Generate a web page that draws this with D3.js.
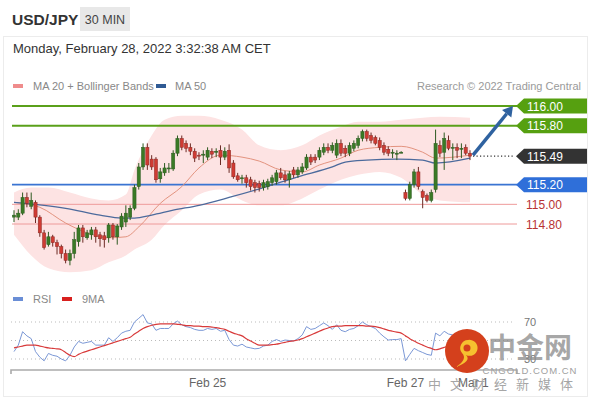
<!DOCTYPE html>
<html><head><meta charset="utf-8">
<script src="https://cdn.jsdelivr.net/npm/d3@7"></script>
<style>
html,body{margin:0;padding:0;background:#fff;}
svg{display:block;font-family:"Liberation Sans",Arial,Helvetica,sans-serif;}
</style></head>
<body>
<svg id="c" width="590" height="400"></svg>
<script>
// ---- data ----
const title = "USD/JPY";
const interval = "30 MIN";
const dateText = "Monday, February 28, 2022 3:32:38 AM CET";
const candleOpen  = [114.87,114.87,114.91,115.07,114.98,115.02,114.87,114.71,114.59,114.67,114.61,114.57,114.50,114.43,114.50,114.62,114.76,114.66,114.69,114.74,114.69,114.68,114.66,114.79,114.67,114.77,114.82,114.87,114.96,115.18,115.38,115.58,115.46,115.46,115.26,115.32,115.36,115.36,115.52,115.67,115.62,115.58,115.54,115.50,115.50,115.48,115.54,115.53,115.55,115.48,115.55,115.42,115.29,115.26,115.27,115.25,115.22,115.21,115.17,115.18,115.22,115.23,115.32,115.30,115.25,115.35,115.30,115.33,115.37,115.48,115.48,115.48,115.53,115.58,115.55,115.50,115.62,115.57,115.52,115.57,115.60,115.67,115.74,115.70,115.68,115.65,115.60,115.56,115.53,115.52,115.53,115.12,115.06,115.20,115.33,115.13,115.09,115.04,115.15,115.60,115.53,115.65,115.57,115.58,115.57,115.58,115.52];
const candleHigh  = [114.94,114.95,115.12,115.12,115.12,115.04,114.89,114.74,114.72,114.69,114.64,114.59,114.54,114.54,114.72,114.79,114.79,114.74,114.77,114.77,114.72,114.72,114.81,114.81,114.80,114.91,114.99,114.99,115.20,115.42,115.62,115.62,115.50,115.48,115.37,115.42,115.42,115.55,115.70,115.70,115.65,115.62,115.57,115.53,115.55,115.58,115.57,115.57,115.60,115.58,115.61,115.45,115.32,115.30,115.30,115.28,115.25,115.24,115.25,115.26,115.30,115.35,115.37,115.34,115.34,115.38,115.38,115.42,115.51,115.51,115.51,115.58,115.62,115.62,115.63,115.66,115.66,115.60,115.63,115.65,115.70,115.76,115.76,115.73,115.70,115.68,115.63,115.59,115.56,115.55,115.54,115.15,115.23,115.36,115.38,115.15,115.11,115.15,115.76,115.65,115.73,115.70,115.62,115.62,115.62,115.61,115.55];
const candleLow   = [114.82,114.84,114.89,114.97,114.95,114.81,114.67,114.54,114.57,114.57,114.49,114.45,114.40,114.38,114.45,114.57,114.61,114.64,114.64,114.61,114.57,114.56,114.61,114.64,114.59,114.74,114.77,114.84,114.94,115.15,115.35,115.35,115.35,115.22,115.22,115.29,115.32,115.34,115.49,115.55,115.53,115.50,115.43,115.45,115.42,115.45,115.47,115.48,115.40,115.45,115.32,115.26,115.23,115.21,115.17,115.14,115.12,115.13,115.14,115.15,115.19,115.20,115.25,115.22,115.17,115.27,115.27,115.31,115.35,115.40,115.42,115.45,115.50,115.52,115.52,115.47,115.49,115.48,115.49,115.54,115.57,115.64,115.64,115.62,115.60,115.55,115.50,115.49,115.47,115.45,115.52,115.04,115.04,115.17,115.15,114.96,115.02,115.02,115.12,115.48,115.35,115.55,115.45,115.47,115.47,115.50,115.45];
const candleClose = [114.89,114.91,115.07,115.01,115.04,114.87,114.71,114.56,114.67,114.61,114.57,114.50,114.43,114.50,114.64,114.76,114.67,114.71,114.74,114.67,114.65,114.64,114.79,114.67,114.78,114.88,114.91,114.96,115.17,115.38,115.58,115.40,115.38,115.25,115.33,115.37,115.37,115.52,115.67,115.58,115.57,115.54,115.47,115.49,115.51,115.55,115.51,115.54,115.48,115.54,115.37,115.28,115.25,115.27,115.22,115.18,115.17,115.17,115.22,115.23,115.27,115.32,115.27,115.25,115.31,115.30,115.35,115.38,115.48,115.43,115.45,115.55,115.58,115.55,115.60,115.62,115.52,115.52,115.60,115.62,115.67,115.74,115.67,115.65,115.62,115.58,115.53,115.52,115.53,115.52,115.53,115.06,115.20,115.33,115.18,115.07,115.04,115.12,115.62,115.52,115.67,115.57,115.58,115.55,115.57,115.52,115.49];

// sparse readings: [candle index, value]
const ma20Idx = [0,6,12,17,22,26,29,34,39,43,48,53,57,62,67,71,76,80,85,90,95,98,106];
const ma20Val = [115.02,114.97,114.81,114.71,114.66,114.67,114.77,115.01,115.18,115.37,115.50,115.48,115.44,115.35,115.33,115.40,115.47,115.55,115.58,115.59,115.53,115.47,115.50];
const ma50Idx = [0,12,20,25,28,32,37,43,50,58,66,74,77,82,89,95,98,106];
const ma50Val = [115.02,114.96,114.89,114.86,114.86,114.89,114.94,114.99,115.07,115.17,115.28,115.38,115.43,115.45,115.46,115.45,115.42,115.47];
const bandIdx   = [0,4,8,13,18,22,26,28,32,35,39,43,48,53,57,62,67,71,76,80,85,90,95,99,106];
const bandUpper = [115.12,115.17,115.17,115.12,115.06,115.04,115.10,115.35,115.70,115.86,115.90,115.90,115.86,115.76,115.60,115.55,115.60,115.70,115.79,115.84,115.84,115.86,115.88,115.89,115.88];
const bandLower = [114.69,114.48,114.35,114.31,114.33,114.41,114.48,114.54,114.64,114.79,114.94,115.10,115.15,115.04,114.99,114.99,115.06,115.15,115.25,115.30,115.33,115.27,115.10,115.04,115.02];

const rsiValues = [38,45,59.5,55,52,38,32,28,36,34,33,30,28,34,43,49,47,48,49,45,45,45,53,49,53,58,60,61,70,74,78,69,68,61,63,63,63,68,71,67,65,64,62,61,61,63,62,63,60,61,51,45,44,46,43,42,41,41.5,44,45,49,51,49,50.5,50,49.5,52,56,65,62,63,66,69,66,62,67,61,59.5,62,63,66,70,67,65,63,58,54,50.5,51,51,52,28,35,41.5,39,37,35,34,58,55,60,57,56,55,56,53,51];
const rsiMA = [42,43,44,45,45,45,44,43,42,41.5,41,40,37,34,32.5,35,37,38.5,40,41.5,43,44.5,46,47.5,49,50.5,52,53.5,57,60,63,65,66.5,67.5,68,68,68,68,67.5,67,66,66,65.5,65.5,65,65,64.5,64,63,62,60,58,56.5,55,52,49.5,47,45,45,45,45.5,46,47,48,49,49.5,50.5,52,54,56,58,60,62,63.5,65,65.5,65.5,66,66,66,66,66,65.5,65.5,65,64,62.5,61,60,59,58,55,52,49.5,47,45,43,41.5,40,41,42.5,44,45.5,47,49,50.5,52];

const levelPrices = [116.00, 115.80, 115.49, 115.20, 115.00, 114.80];
const levelLabels = ["116.00","115.80","115.49","115.20","115.00","114.80"];
const levelKinds  = ["res","res","last","sup","minor","minor"];
const rsiLevels = [70, 50, 30];
const rsiLevelLabels = ["70", "", "30"];
const timeTickIdx = [45, 91, 106.8];
const timeTickLabels = ["Feb 25", "Feb 27", "Mar 1"];

// ---- drawing ----
const svg = d3.select("#c");
const x = d3.scaleLinear().domain([0,106]).range([14,470]);
const y = d3.scaleLinear().domain([114.8,116.0]).range([224,106]);
const yr = d3.scaleLinear().domain([30,70]).range([359,322]);

// frame
svg.append("rect").attr("x",0).attr("y",0).attr("width",590).attr("height",400).attr("fill","#fff");
svg.append("rect").attr("x",3.5).attr("y",36.5).attr("width",584).attr("height",360).attr("fill","#fff").attr("stroke","#ececec");

// header
svg.append("text").attr("x",12).attr("y",25).attr("font-size",15.5).attr("font-weight","bold").attr("fill","#333").text(title);
svg.append("rect").attr("x",80).attr("y",7).attr("width",50).attr("height",24).attr("fill","#e8e8e8");
svg.append("text").attr("x",105).attr("y",24).attr("text-anchor","middle").attr("font-size",12.5).attr("fill","#444").text(interval);
svg.append("text").attr("x",13).attr("y",53).attr("font-size",13).attr("fill","#333").text(dateText);

// legends
svg.append("rect").attr("x",13).attr("y",84).attr("width",10).attr("height",4).attr("fill","#ef8c8c");
svg.append("text").attr("x",33).attr("y",90).attr("font-size",11).attr("fill","#888").text("MA 20 + Bollinger Bands");
svg.append("rect").attr("x",156).attr("y",84).attr("width",10).attr("height",4).attr("fill","#2f5a94");
svg.append("text").attr("x",175).attr("y",90).attr("font-size",11).attr("fill","#888").text("MA 50");
svg.append("text").attr("x",581).attr("y",90).attr("text-anchor","end").attr("font-size",11).attr("fill","#9a9a9a").text("Research \u00a9 2022 Trading Central");

// bollinger band
const bandData = bandIdx.map((d,i)=>({i:d,u:bandUpper[i],l:bandLower[i]}));
svg.append("path").datum(bandData)
  .attr("d", d3.area().x(d=>x(d.i)).y0(d=>y(d.l)).y1(d=>y(d.u)).curve(d3.curveMonotoneX))
  .attr("fill","#fde3e3");

// level lines
levelPrices.forEach((p,k)=>{
  const kind = levelKinds[k], yy = y(p);
  if (kind==="res") svg.append("line").attr("x1",12).attr("x2",517).attr("y1",yy).attr("y2",yy).attr("stroke","#5aa01a").attr("stroke-width",2);
  if (kind==="sup") svg.append("line").attr("x1",12).attr("x2",517).attr("y1",yy).attr("y2",yy).attr("stroke","#3a74d2").attr("stroke-width",1.6);
  if (kind==="minor") svg.append("line").attr("x1",12).attr("x2",517).attr("y1",yy).attr("y2",yy).attr("stroke","#ee9a9a").attr("stroke-width",1);
  if (kind==="last") svg.append("line").attr("x1",x(106)+3).attr("x2",515).attr("y1",yy).attr("y2",yy).attr("stroke","#333").attr("stroke-width",1.2).attr("stroke-dasharray","1.2,2.3");
});

// MA lines
const ma20 = ma20Idx.map((d,i)=>[x(d),y(ma20Val[i])]);
const ma50 = ma50Idx.map((d,i)=>[x(d),y(ma50Val[i])]);
svg.append("path").attr("d",d3.line().curve(d3.curveMonotoneX)(ma20)).attr("fill","none").attr("stroke","#e3937f").attr("stroke-width",1);
svg.append("path").attr("d",d3.line().curve(d3.curveMonotoneX)(ma50)).attr("fill","none").attr("stroke","#4c6a9c").attr("stroke-width",1.3);

// candles
const candles = candleOpen.map((o,i)=>({i,o,h:candleHigh[i],l:candleLow[i],c:candleClose[i]}));
const cg = svg.append("g");
cg.selectAll("line.w").data(candles).join("line")
  .attr("x1",d=>x(d.i)).attr("x2",d=>x(d.i)).attr("y1",d=>y(d.h)).attr("y2",d=>y(d.l))
  .attr("stroke",d=>d.c>=d.o?"#2d5a20":"#6b2a24").attr("stroke-width",1);
cg.selectAll("rect.b").data(candles).join("rect")
  .attr("x",d=>x(d.i)-1.6).attr("width",3.2)
  .attr("y",d=>y(Math.max(d.o,d.c)))
  .attr("height",d=>Math.max(1,Math.abs(y(d.o)-y(d.c))))
  .attr("fill",d=>d.c>=d.o?"#3a7a26":"#cf3b33")
  .attr("stroke",d=>d.c>=d.o?"#2d5a20":"#8a2a24").attr("stroke-width",0.5);

// level labels
levelPrices.forEach((p,k)=>{
  const kind = levelKinds[k], yy = y(p);
  if (kind==="minor") {
    svg.append("text").attr("x",526).attr("y",yy+4.5).attr("font-size",12).attr("fill","#b83232").text(levelLabels[k]);
    return;
  }
  const col = kind==="res" ? "#56a010" : kind==="sup" ? "#2f6fd9" : "#333";
  svg.append("path")
    .attr("d",`M516,${yy} L524,${yy-7.5} L587,${yy-7.5} L587,${yy+7.5} L524,${yy+7.5} Z`)
    .attr("fill",col);
  svg.append("text").attr("x",527).attr("y",yy+4.5).attr("font-size",12).attr("fill","#fff").text(levelLabels[k]);
});

// arrow
const ax1 = x(106)+3, ay1 = y(115.49)-1, ax2 = 513, ay2 = y(116.0)+0;
const ang = Math.atan2(ay2-ay1, ax2-ax1);
const sx = ax2 - 10*Math.cos(ang), sy = ay2 - 10*Math.sin(ang);
svg.append("line").attr("x1",ax1).attr("y1",ay1).attr("x2",sx).attr("y2",sy).attr("stroke","#2f62a0").attr("stroke-width",3.5);
const px = -Math.sin(ang), py = Math.cos(ang);
svg.append("path").attr("d",`M${ax2},${ay2} L${sx+6*px},${sy+6*py} L${sx-6*px},${sy-6*py} Z`).attr("fill","#2f62a0");

// RSI legend
svg.append("rect").attr("x",13).attr("y",297).attr("width",10).attr("height",4).attr("fill","#6a8ed6");
svg.append("text").attr("x",33).attr("y",303).attr("font-size",11).attr("fill","#888").text("RSI");
svg.append("rect").attr("x",62).attr("y",297).attr("width",10).attr("height",4).attr("fill","#d8201e");
svg.append("text").attr("x",82).attr("y",303).attr("font-size",11).attr("fill","#888").text("9MA");

// RSI grid
rsiLevels.forEach((v,k)=>{
  svg.append("line").attr("x1",11).attr("x2",515).attr("y1",yr(v)).attr("y2",yr(v))
    .attr("stroke","#bbb").attr("stroke-width",1).attr("stroke-dasharray","1,3");
  if (rsiLevelLabels[k]) svg.append("text").attr("x",524).attr("y",yr(v)+4).attr("font-size",11).attr("fill","#777").text(rsiLevelLabels[k]);
});
svg.append("path").attr("d",d3.line().x((d,i)=>x(i)).y(d=>yr(d))(rsiValues)).attr("fill","none").attr("stroke","#7b98d6").attr("stroke-width",1);
svg.append("path").attr("d",d3.line().x((d,i)=>x(i)).y(d=>yr(d)).curve(d3.curveMonotoneX)(rsiMA)).attr("fill","none").attr("stroke","#d83a3a").attr("stroke-width",1.2);

// time axis
svg.append("path").attr("d","M11,374 V370 H517 V374").attr("fill","none").attr("stroke","#aaa").attr("stroke-width",1.6);
timeTickIdx.forEach((t,k)=>{
  svg.append("text").attr("x",x(t)).attr("y",387).attr("text-anchor","middle").attr("font-size",12).attr("fill","#666").text(timeTickLabels[k]);
});

// watermark
const wm = svg.append("g");
wm.append("circle").attr("cx",467).attr("cy",351).attr("r",22).attr("fill","#d4401c");
wm.append("path").attr("d","M468,340 a8,8 0 1,1 -2,15 q6,6 -10,12 q12,-8 6,-14 a8,8 0 0,1 6,-13 z").attr("fill","#f6c12f");
wm.append("circle").attr("cx",467).attr("cy",348).attr("r",3.5).attr("fill","#d4401c");
wm.append("text").attr("x",530).attr("y",358).attr("text-anchor","middle").attr("font-size",28).attr("font-weight","bold")
  .attr("font-family","'Noto Sans CJK SC',sans-serif").attr("fill","#8a8a8a").attr("fill-opacity",0.75).text("中金网");
wm.append("text").attr("x",530).attr("y",374).attr("text-anchor","middle").attr("font-size",9.5).attr("letter-spacing",1)
  .attr("fill","#a0a0a0").text("CNGOLD.COM.CN");
wm.append("text").attr("x",505).attr("y",389).attr("text-anchor","middle").attr("font-size",13).attr("letter-spacing",9)
  .attr("font-family","'Noto Sans CJK SC',sans-serif").attr("fill","#9a9a9a").attr("fill-opacity",0.9).text("中文财经新媒体");
</script>
</body></html>
